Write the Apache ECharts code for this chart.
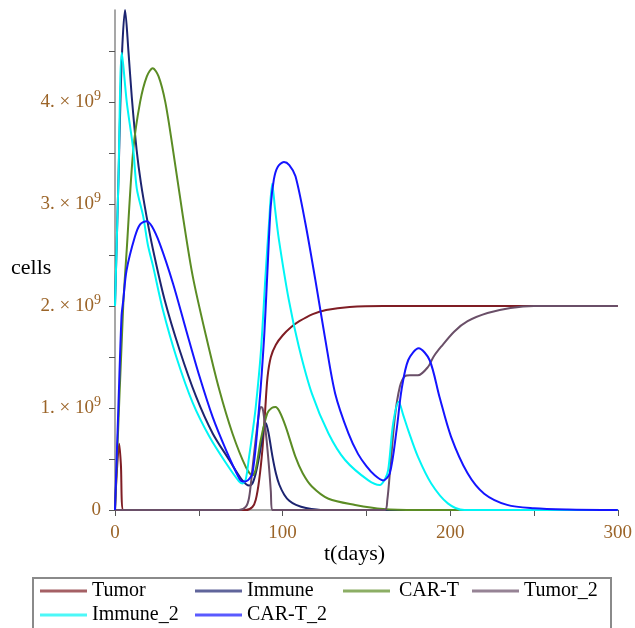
<!DOCTYPE html>
<html>
<head>
<meta charset="utf-8">
<script src="https://cdn.jsdelivr.net/npm/echarts@6/dist/echarts.min.js"></script>
<style>
  html,body{margin:0;padding:0;background:#fff;}
  #main{width:635px;height:628px;}
</style>
</head>
<body>
<div id="main"></div>
<script>
// values in units of 10^9 cells, t in days
var tumorT=[0,1,2.5,3.5,5,78,82,84,86,88,89.5,91,93,96,100,105,110,118,126,140,160,200,300];
var tumorV=[0,0.35,0.65,0.45,0,0,0.03,0.1,0.29,0.6,0.95,1.3,1.5,1.62,1.71,1.79,1.85,1.92,1.96,1.99,2,2,2];

var immuneT=[0,2,4,6,8,10,12.9,15.5,18.8,22.7,29.6,38.5,48.4,58.3,68.2,76,80,82,84,86,88,89,90,91,92,94,96,98,101,104,108,114,125,300];
var immuneV=[2,3.2,4.4,4.9,4.5,4.05,3.53,3.2,2.88,2.55,2.06,1.57,1.11,0.75,0.49,0.29,0.24,0.26,0.36,0.52,0.72,0.83,0.85,0.8,0.72,0.52,0.36,0.25,0.15,0.09,0.05,0.02,0,0];

var cartT=[0,4.9,7,10.9,15,19,22.5,26,30,34.6,40.5,46.4,54.4,62.2,70.1,78.1,82,84,87,90.9,93.5,95.8,98,101.8,107.7,112,117.5,127.4,143.3,160,180,300];
var cartV=[0,2,2.55,3.53,4,4.25,4.33,4.25,4,3.53,2.88,2.29,1.7,1.18,0.75,0.42,0.34,0.4,0.69,0.95,1,1.01,0.97,0.82,0.52,0.36,0.23,0.11,0.05,0.01,0,0];

var tumor2T=[0,74,78,80,82,84,86,87,88,89,90.5,92,93,93.8,161,162.5,164,167,170,172.9,176,180.8,186.7,190,194.6,202.5,210.4,222.3,236,250,300];
var tumor2V=[0,0,0.03,0.12,0.4,0.7,0.95,1.01,1,0.9,0.68,0.4,0.18,0,0,0.1,0.36,0.91,1.21,1.31,1.32,1.32,1.4,1.5,1.6,1.75,1.85,1.93,1.98,2,2];

var immune2T=[0,2,4.1,7,10.9,13,16.8,19.6,22.7,28.6,36.6,46.4,56.3,66.2,74,76,78,80,82,84,87,89.9,91.9,93.8,95.5,97.8,103.7,109.7,117.5,127.4,137.3,151.2,158,161,163,166,169.3,172,175,180.8,188.7,198.6,208.5,300];
var immune2V=[2,3.2,4.48,4,3.53,3.15,2.88,2.6,2.39,1.96,1.5,1.05,0.72,0.46,0.28,0.26,0.3,0.52,0.75,1.01,1.54,2.32,2.81,3.2,2.95,2.65,2.06,1.6,1.14,0.75,0.49,0.29,0.245,0.3,0.39,0.85,1.06,0.93,0.78,0.52,0.26,0.065,0,0];

var cart2T=[0,2,3.9,4.9,6.9,11.9,15,18.8,22,26.7,34.6,42.5,50.4,58.3,66.2,74.1,76,78,82,86,88.9,90.9,92.9,94.8,97,100.8,104,107.7,113.6,119.6,125.5,131.4,139.3,145,150,155,160,164,168,171,175,181.2,187.7,193.6,200.5,210.4,220.3,234,250,270,300];
var cart2V=[0,1,1.9,2.05,2.35,2.68,2.8,2.83,2.78,2.61,2.22,1.76,1.31,0.91,0.59,0.31,0.28,0.28,0.36,1.01,1.67,2.32,2.97,3.24,3.36,3.41,3.38,3.27,2.81,2.25,1.67,1.14,0.75,0.55,0.43,0.34,0.29,0.36,0.78,1.18,1.47,1.585,1.47,1.11,0.72,0.36,0.16,0.05,0.017,0.005,0];

var names=['Tumor','Immune','CAR-T','Tumor_2','Immune_2','CAR-T_2'];
var colors=['#7f1d24','#1c2470','#5b8c24','#6a4f68','#00f5f5','#1414ff'];
var yLabels=[0,1,2,3,4];
var yTicks=[0,0.5,1,1.5,2,2.5,3,3.5,4,4.5];
var xTicks=[0,50,100,150,200,250,300];

var serif='"Liberation Serif","Times New Roman",serif';
var tickColor='#9b6428';

function pairs(t,v){
	var out=[];
	for(var i=0;i<t.length;i++){out.push([t[i],v[i]]);}
	return out;
}
var allData=[pairs(tumorT,tumorV),pairs(immuneT,immuneV),pairs(cartT,cartV),pairs(tumor2T,tumor2V),pairs(immune2T,immune2V),pairs(cart2T,cart2V)];

var seriesList=[];
for(var i=0;i<names.length;i++){
	seriesList.push({
		name:names[i],type:'line',data:allData[i],
		showSymbol:false,symbol:'none',
		smooth:0.3,
		lineStyle:{width:2,color:colors[i]},
		itemStyle:{color:colors[i]}
	});
}

// legend positions [left, top]
var legPos=[[40,581],[195,581],[343,581],[472,581],[40,605],[195,605]];
var legends=[];
for(var j=0;j<names.length;j++){
	legends.push({
		data:[names[j]],left:legPos[j][0],top:legPos[j][1],
		padding:0,icon:'rect',itemWidth:47,itemHeight:3,
		itemStyle:{opacity:0.7},
		selectedMode:false,
		textStyle:{fontFamily:serif,fontSize:20,color:'#000',padding:names[j]==='CAR-T'?[5,0,0,4]:0}
	});
}

var chart=echarts.init(document.getElementById('main'));
chart.setOption({
	animation:false,
	color:colors,
	grid:{left:115,right:14,top:10,bottom:118,containLabel:false},
	legend:legends,
	xAxis:{
		type:'value',min:0,max:300,interval:100,
		axisLine:{lineStyle:{color:'#8a8a8a',width:1.5}},
		axisTick:{customValues:xTicks,length:6,lineStyle:{color:'#555'}},
		axisLabel:{margin:14,color:tickColor,fontFamily:serif,fontSize:19},
		splitLine:{show:false}
	},
	yAxis:{
		type:'value',min:0,max:4.9,
		axisLine:{show:true,lineStyle:{color:'#8a8a8a',width:1.5}},
		axisTick:{show:true,customValues:yTicks,length:6,lineStyle:{color:'#555'}},
		axisLabel:{
			customValues:yLabels,margin:14,color:tickColor,
			formatter:function(v){
				if(v===0){return '{a|0}';}
				return '{a|'+v+'. × 10}{b|9}';
			},
			rich:{
				a:{fontFamily:serif,fontSize:19,color:tickColor},
				b:{fontFamily:serif,fontSize:14,color:tickColor,padding:[0,0,11,0]}
			}
		},
		splitLine:{show:false}
	},
	graphic:[
		{type:'text',left:11,top:257,style:{text:'cells',font:'22px '+serif,fill:'#000'}},
		{type:'text',left:324,top:543,style:{text:'t(days)',font:'22px '+serif,fill:'#000'}},
		{type:'rect',shape:{x:33,y:578,width:578,height:70},style:{fill:'none',stroke:'#8a8a8a',lineWidth:2}}
	],
	series:seriesList
});
</script>
</body>
</html>
